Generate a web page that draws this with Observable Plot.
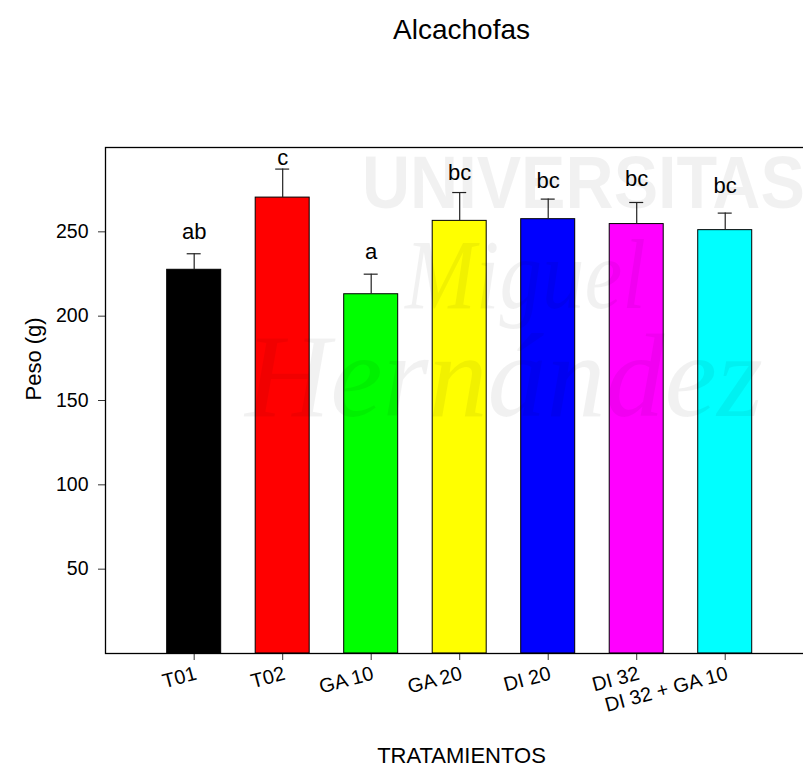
<!DOCTYPE html>
<html>
<head>
<meta charset="utf-8">
<script src="https://cdn.jsdelivr.net/npm/d3@7"></script>
<script src="https://cdn.jsdelivr.net/npm/@observablehq/plot@0.6"></script>
<style>
  body { margin: 0; background: #fff; }
  #chart { position: relative; width: 803px; height: 767px; overflow: hidden; font-family: "Liberation Sans", Arial, sans-serif; }
  #chart svg { display: block; }
  .wm { position: absolute; white-space: nowrap; pointer-events: none; line-height: 1; color: rgba(0,0,0,0.055); transform-origin: left top; }
  .wm.sans { font-family: "Liberation Sans", Arial, sans-serif; font-weight: bold; }
  .wm.serif { font-family: "Liberation Serif", "Times New Roman", serif; font-style: italic; }
</style>
</head>
<body>
<div id="chart"></div>
<script>
// Peso medio de alcachofas por tratamiento, con error estándar y letras de significación
const tratamientos = ["T01", "T02", "GA 10", "GA 20", "DI 20", "DI 32", "DI 32 + GA 10"];
const peso = [227.5, 270.3, 213.0, 256.5, 257.5, 254.6, 251.0];
const errorEstandar = [9.5, 16.9, 11.9, 16.8, 11.9, 12.8, 10.1];
const letras = ["ab", "c", "a", "bc", "bc", "bc", "bc"];
const alturaLetras = [245.8, 289.7, 234.0, 280.8, 276.1, 277.3, 273.1];
const colores = ["#000000", "#ff0000", "#00ff00", "#ffff00", "#0000ff", "#ff00ff", "#00ffff"];
const yTicks = [50, 100, 150, 200, 250];

const datos = tratamientos.map((t, i) => ({
  t,
  peso: peso[i],
  tope: peso[i] + errorEstandar[i],
  letra: letras[i],
  yLetra: alturaLetras[i]
}));

const chart = Plot.plot({
  width: 803,
  height: 767,
  marginTop: 147,
  marginLeft: 105,
  marginBottom: 114,
  marginRight: -14,
  style: { fontFamily: "'Liberation Sans', Arial, sans-serif", fontSize: "19.5px", color: "#000", background: "transparent" },
  x: { domain: tratamientos, range: [105, 813.4], paddingInner: 0.39, paddingOuter: 0.697, round: false, label: null },
  y: { domain: [0, 300], label: null },
  color: { domain: tratamientos, range: colores },
  marks: [
    Plot.barY(datos, { x: "t", y: "peso", fill: "t", stroke: "#000", strokeWidth: 1 }),
    Plot.ruleX(datos, { x: "t", y1: "peso", y2: "tope", stroke: "#222", strokeWidth: 1.2 }),
    Plot.tickY(datos, { x: "t", y: "tope", insetLeft: 20, insetRight: 20, stroke: "#222", strokeWidth: 1.2 }),
    Plot.text(datos, { x: "t", y: "yLetra", text: "letra", fontSize: 22, lineAnchor: "bottom" }),
    Plot.axisY({ ticks: yTicks, tickSize: 7, tickPadding: 10, fontSize: 19.5, stroke: "#333", label: null }),
    Plot.axisX({ tickSize: 7, tickPadding: 5, tickRotate: -15, textAnchor: "end", lineAnchor: "top", fontSize: 20, stroke: "#333", label: null }),
    Plot.frame({ stroke: "#000", strokeWidth: 1.3 }),
    Plot.text(["Alcachofas"], { frameAnchor: "top", lineAnchor: "middle", dy: -117, fontSize: 28 }),
    Plot.text(["Peso (g)"], { frameAnchor: "left", lineAnchor: "middle", dx: -72, rotate: -90, fontSize: 22 }),
    Plot.text(["TRATAMIENTOS"], { frameAnchor: "bottom", lineAnchor: "middle", dy: 102, fontSize: 22 })
  ]
});

const cont = document.getElementById("chart");
cont.appendChild(chart);

// Marca de agua institucional, translúcida sobre el gráfico
const marcas = [
  { texto: "UNIVERSITAS", clase: "sans", left: 362, top: 146, size: 74, escala: 0.9 },
  { texto: "Miguel", clase: "serif", left: 405, top: 225, size: 100, escala: 0.85 },
  { texto: "Hernández", clase: "serif", left: 245, top: 318, size: 118, escala: 1 }
];
for (const m of marcas) {
  const d = document.createElement("div");
  d.className = "wm " + m.clase;
  d.textContent = m.texto;
  d.style.left = m.left + "px";
  d.style.top = m.top + "px";
  d.style.fontSize = m.size + "px";
  d.style.transform = `scaleX(${m.escala})`;
  cont.appendChild(d);
}
</script>
</body>
</html>
